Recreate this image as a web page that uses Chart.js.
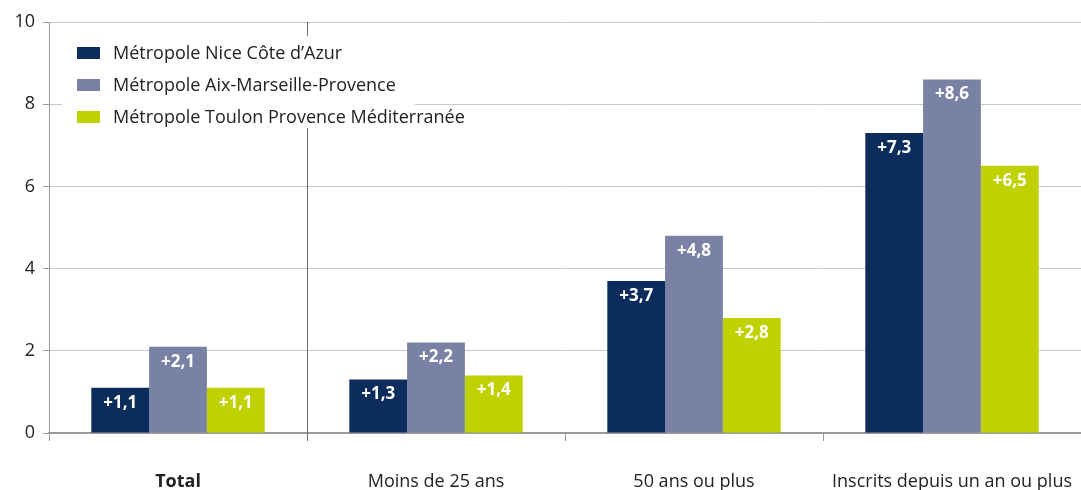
<!DOCTYPE html>
<html lang="fr">
<head>
<meta charset="UTF-8" />
<script src="https://cdn.jsdelivr.net/npm/chart.js"></script>
<style>
  body { margin: 0; background: #fff; overflow: hidden; }
  .wrap { position: relative; width: 1081px; height: 490px; }
  .legende {
    position: absolute; left: 62px; top: 36px; width: 353px; height: 92px;
    background: #fff; font-family: "Open Sans", sans-serif; font-size: 18px; color: #222;
  }
  .legende div { position: absolute; left: 51px; line-height: 20px; white-space: nowrap; }
  .legende span { position: absolute; left: -36px; top: 5px; width: 23px; height: 12px; }
</style>
</head>
<body>
<div class="wrap">
  <canvas id="graphique" width="1081" height="490"></canvas>
  <div class="legende" id="legende"></div>
</div>
<script>
  // categories et valeurs (évolution en %)
  const categories = ["Total", "Moins de 25 ans", "50 ans ou plus", "Inscrits depuis un an ou plus"];
  const series = ["Métropole Nice Côte d’Azur", "Métropole Aix-Marseille-Provence", "Métropole Toulon Provence Méditerranée"];
  const nice = [1.1, 1.3, 3.7, 7.3];
  const marseille = [2.1, 2.2, 4.8, 8.6];
  const toulon = [1.1, 1.4, 2.8, 6.5];
  const yTicks = [0, 2, 4, 6, 8, 10];
  const couleurs = ["#0c2c5c", "#7982a5", "#c0d100"];

  // legende en html au dessus du graphique
  const leg = document.getElementById("legende");
  series.forEach(function (nom, i) {
    const d = document.createElement("div");
    d.style.top = (6 + i * 32) + "px";
    d.innerHTML = '<span style="background:' + couleurs[i] + '"></span>' + nom;
    leg.appendChild(d);
  });

  // etiquettes blanches dans les barres + separateur apres "Total"
  const extras = {
    id: "extras",
    beforeDatasetsDraw(chart) {
      const ctx = chart.ctx, x = chart.scales.x, a = chart.chartArea;
      const px = Math.round((x.getPixelForValue(0) + x.getPixelForValue(1)) / 2) + 0.5;
      ctx.save();
      ctx.strokeStyle = "#6e6e6e";
      ctx.lineWidth = 1;
      ctx.beginPath();
      ctx.moveTo(px, a.top);
      ctx.lineTo(px, a.bottom + 8);
      ctx.stroke();
      ctx.restore();
    },
    afterDatasetsDraw(chart) {
      const ctx = chart.ctx;
      ctx.save();
      ctx.fillStyle = "#fff";
      ctx.font = "bold 17px 'Open Sans', sans-serif";
      ctx.textAlign = "center";
      ctx.textBaseline = "middle";
      chart.data.datasets.forEach(function (ds, i) {
        chart.getDatasetMeta(i).data.forEach(function (bar, j) {
          ctx.fillText("+" + ds.data[j].toFixed(1).replace(".", ","), bar.x, bar.y + 15);
        });
      });
      ctx.restore();
    }
  };

  const donnees = [nice, marseille, toulon];

  new Chart(document.getElementById("graphique"), {
    type: "bar",
    data: {
      labels: categories,
      datasets: series.map(function (nom, i) {
        return { label: nom, data: donnees[i], backgroundColor: couleurs[i], borderWidth: 0 };
      })
    },
    options: {
      responsive: false,
      animation: false,
      categoryPercentage: 0.672,
      barPercentage: 1,
      layout: { padding: { top: 22, right: 0, left: 0, bottom: 0 } },
      plugins: { legend: { display: false }, tooltip: { enabled: false } },
      scales: {
        x: {
          afterFit(s) { s.height = 57; s.paddingRight = 0; s.paddingLeft = 0; },
          grid: { offset: true, drawOnChartArea: false, tickLength: 8, color: "#9a9a9a" },
          border: { color: "#9a9a9a", width: 2 },
          ticks: {
            padding: 30,
            color: "#222",
            font: function (c) {
              return { family: "'Open Sans', sans-serif", size: 18, weight: c.index === 0 ? "bold" : "normal" };
            }
          }
        },
        y: {
          min: 0,
          max: 10,
          afterFit(s) { s.width = 49; },
          afterBuildTicks(s) { s.ticks = yTicks.map(function (v) { return { value: v }; }); },
          grid: { color: "#c8c8c8", tickLength: 6, tickColor: "#9a9a9a" },
          border: { color: "#9a9a9a" },
          ticks: { padding: 8, color: "#222", font: { family: "'Open Sans', sans-serif", size: 18 } }
        }
      }
    },
    plugins: [extras]
  });
</script>
</body>
</html>
